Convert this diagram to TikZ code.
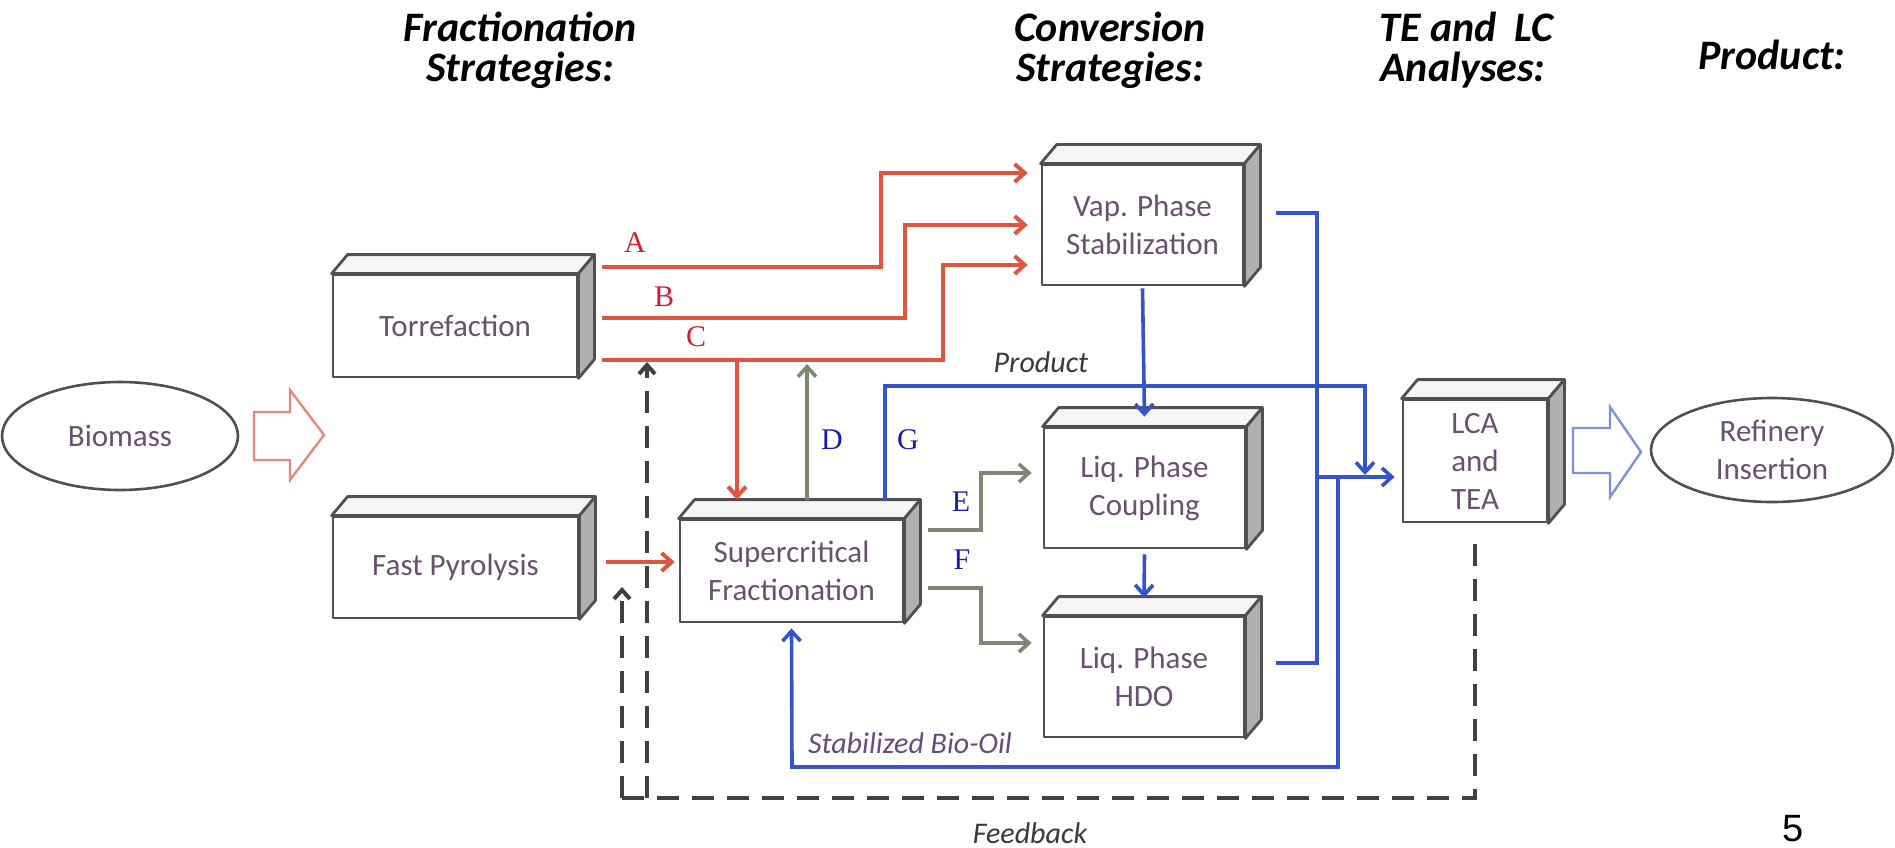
\documentclass[tikz,border=0pt]{standalone}
\usepackage{fontspec}
\setmainfont{Carlito}
\newfontfamily\letterfont{Liberation Serif}
\newfontfamily\pagefont{Liberation Sans}
\usetikzlibrary{arrows.meta,shapes.geometric,calc}

\definecolor{boxline}{HTML}{505050}
\definecolor{boxtext}{HTML}{6A506F}
\definecolor{topgray}{HTML}{F6F6F6}
\definecolor{sidegray}{HTML}{B0B0B0}
\definecolor{flowred}{HTML}{E0553F}
\definecolor{letterred}{HTML}{D01F30}
\definecolor{flowgreen}{HTML}{7D8872}
\definecolor{flowblue}{HTML}{3553D0}
\definecolor{letterblue}{HTML}{1B1DA8}
\definecolor{fbgray}{HTML}{404040}
\definecolor{notegray}{HTML}{3A3A3A}
\definecolor{notepurple}{HTML}{6A4A7C}
\definecolor{hollowred}{HTML}{E8887C}
\definecolor{hollowblue}{HTML}{8090DA}

% depth of the cuboid faces
\def\dX{16}
\def\dY{19}
\newcommand\cubefaces[1]{%
  \filldraw[topface] (#1.north west) -- ++(\dX,-\dY) -- ([shift={(\dX,-\dY)}]#1.north east) -- (#1.north east) -- cycle;
  \filldraw[sideface] (#1.north east) -- ++(\dX,-\dY) -- ([shift={(\dX,-\dY)}]#1.south east) -- (#1.south east) -- cycle;
}

\begin{document}
\begin{tikzpicture}[x=1pt,y=-1pt,
  cube/.style={draw=boxline, fill=white, line width=2.8pt, line join=round,
    inner sep=0pt, align=center, text=boxtext, font=\fontsize{31}{38}\selectfont},
  topface/.style={draw=boxline, fill=topgray, line width=2.8pt, line join=round},
  sideface/.style={draw=boxline, fill=sidegray, line width=2.8pt, line join=round},
  oval/.style={ellipse, draw=boxline, fill=white, line width=2.6pt, inner sep=0pt,
    align=center, text=boxtext, font=\fontsize{31}{38}\selectfont},
  hdr/.style={anchor=base, inner sep=0pt, font=\fontsize{42}{48}\selectfont\bfseries\itshape},
  redletter/.style={inner sep=0pt, text=letterred, font=\letterfont\fontsize{30}{30}\selectfont},
  blueletter/.style={inner sep=0pt, text=letterblue, font=\letterfont\fontsize{30}{30}\selectfont},
  note/.style={inner sep=0pt, font=\fontsize{30}{30}\selectfont\itshape},
  redflow/.style={draw=flowred, line width=4pt, line join=miter,
    -{Straight Barb[length=10pt,width=18pt]}},
  greenflow/.style={draw=flowgreen, line width=3.6pt,
    -{Straight Barb[length=10pt,width=18pt]}},
  blueline/.style={draw=flowblue, line width=3.6pt},
  blueflow/.style={blueline, -{Straight Barb[length=10pt,width=18pt]}},
  fbline/.style={draw=fbgray, line width=4pt, dash pattern=on 22pt off 13pt},
  fbflow/.style={fbline, -{Straight Barb[length=9pt,width=16pt]}},
  hollow/.style={line width=2.4pt, fill=white, line join=miter}
]
\useasboundingbox[fill=white] (0,0) rectangle (1895,848);

% column headings
\node[hdr] at (520,42) {Fractionation};
\node[hdr] at (520,82) {Strategies:};
\node[hdr] at (1110,42) {Conversion};
\node[hdr] at (1110,82) {Strategies:};
\node[hdr] at (1466,42) {TE and\hspace{0.2em} LC};
\node[hdr] at (1463,82) {Analyses:};
\node[hdr] at (1772,70) {Product:};

% process blocks
\node[cube, minimum width=244pt, minimum height=102pt] (torr) at (455,326) {Torrefaction};
\node[cube, minimum width=245pt, minimum height=101pt] (fp) at (455.5,567.5) {Fast Pyrolysis};
\node[cube, minimum width=223pt, minimum height=102pt] (sc) at (791.5,571) {Supercritical\\Fractionation};
\node[cube, minimum width=201pt, minimum height=120pt] (vap) at (1142.5,225) {Vap. Phase\\Stabilization};
\node[cube, minimum width=201pt, minimum height=120pt] (cpl) at (1144.5,488) {Liq. Phase\\Coupling};
\node[cube, minimum width=200pt, minimum height=120pt] (hdo) at (1144,677) {Liq. Phase\\HDO};
\node[cube, minimum width=144pt, minimum height=122pt] (lca) at (1475,461) {LCA\\and\\TEA};
\foreach \b in {torr,fp,sc,vap,cpl,hdo,lca} {\cubefaces{\b}}

% feed and product ovals
\node[oval, minimum width=236pt, minimum height=108pt] (bio) at (120,436) {Biomass};
\node[oval, minimum width=242pt, minimum height=104pt] (ref) at (1772,450) {Refinery\\Insertion};

% block arrows
\draw[hollow, draw=hollowred] (254,412) -- (290,412) -- (290,390) -- (324,435)
  -- (290,480) -- (290,460) -- (254,460) -- cycle;
\draw[hollow, draw=hollowblue] (1573,428) -- (1610,428) -- (1610,407) -- (1641,452)
  -- (1610,497) -- (1610,473) -- (1573,473) -- cycle;

% connection points next to the blocks
\coordinate (torrout) at ([xshift=24pt]torr.east);
\coordinate (vapin) at ([xshift=-13pt]vap.west);
\coordinate (vapout) at ([xshift=32pt]vap.east);
\coordinate (cplin) at ([xshift=-11pt]cpl.west);
\coordinate (hdoout) at ([xshift=31pt]hdo.east);
\coordinate (lcain) at ([xshift=-7pt]lca.west);
\coordinate (fpout) at ([xshift=27pt]fp.east);
\coordinate (scin) at ([xshift=-4pt]sc.west);
\coordinate (sctop) at ([yshift=19pt]sc.north);

% feedback loops (drawn first, under the flows)
\draw[fbline] ([yshift=-21pt]lca.south) |- (622,798);
\draw[fbflow] (622,798) -- (622,587);
\draw[fbflow] (647,798) -- (647,362);

% torrefaction products A, B, C
\draw[redflow] (torrout |- 0,267) -- (881,267) |- (vapin |- 0,173);
\draw[redflow] (torrout |- 0,318) -- (905,318) |- (vapin |- 0,225);
\draw[redflow] (torrout |- 0,360) -- (943,360) |- (vapin |- 0,265);
\draw[redflow] (737,360) -- (sctop -| 737,0);
\draw[redflow] (fpout |- 0,562) -- (scin |- 0,562);

% supercritical fractions D, E, F
\draw[greenflow] (sctop -| 807,0) -- (807,364);
\draw[greenflow] (928,530) -- (981,530) |- (cplin |- 0,473);
\draw[greenflow] (928,588) -- (981,588) |- (cplin |- 0,643);

% upgrading and analysis flows
\draw[blueflow] ([yshift=-2pt]vap.south) -- ([yshift=10pt]cpl.north);
\draw[blueflow] ([yshift=-5pt]cpl.south) -- ([yshift=18pt]hdo.north);
\draw[blueline] (vapout |- 0,213) -- (1317,213) -- (1317,663) -- (hdoout |- 0,663);
\draw[blueflow] (1317,477) -- (lcain |- 0,477);
\draw[blueflow] (sctop -| 885,0) |- (1365,386) -- (1365,475);
\draw[blueflow] (1338,477) |- (792,767) -- ([yshift=-5pt]sc.south);

% stream labels
\node[redletter] at (635,243) {A};
\node[redletter] at (664,297) {B};
\node[redletter] at (696,337) {C};
\node[blueletter] at (832,440) {D};
\node[blueletter] at (908,440) {G};
\node[blueletter] at (961,502) {E};
\node[blueletter] at (962,560) {F};
\node[note, text=notegray] at (1041,362) {Product};
\node[note, text=notepurple] at (910,743) {Stabilized Bio-Oil};
\node[note, text=notegray] at (1030,833) {Feedback};

% page number
\node[anchor=base, inner sep=0pt, font=\pagefont\fontsize{38}{38}\selectfont] at (1793,841) {5};
\end{tikzpicture}
\end{document}
